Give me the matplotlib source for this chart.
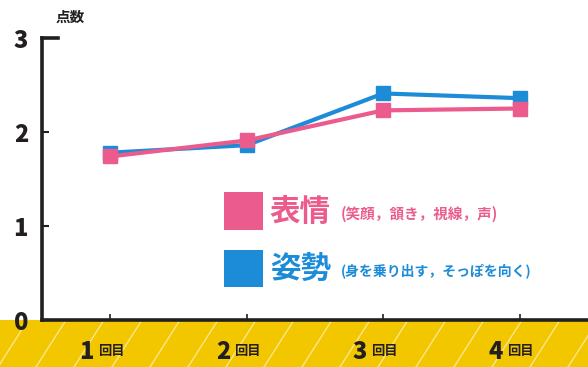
import matplotlib
matplotlib.use("Agg")
import matplotlib.pyplot as plt
from matplotlib.patches import Rectangle
from matplotlib.lines import Line2D

plt.rcParams['font.family'] = ['Noto Sans CJK JP', 'DejaVu Sans']

# data
rounds = [1, 2, 3, 4]
round_nums = ["1", "2", "3", "4"]
round_suffix = "回目"
hyojo = [1.74, 1.91, 2.23, 2.25]   # 表情
shisei = [1.78, 1.86, 2.41, 2.36]  # 姿勢
yticks = [0, 1, 2, 3]

pink = "#EC5B8D"
blue = "#1C8CD8"
yellow = "#F2C700"
dark = "#231F20"

W, H = 588, 367
fig = plt.figure(figsize=(W / 100, H / 100), dpi=100)
fig.patch.set_facecolor("white")

# yellow band with white diagonal stripes at the bottom
band_top = 47 / H
fig.patches.append(Rectangle((0, 0), 1, band_top, transform=fig.transFigure,
                             facecolor=yellow, edgecolor="none", zorder=-3))
for x0 in range(-40, W + 40, 38):
    fig.lines.append(Line2D([x0 / W, (x0 + 30) / W], [0, band_top],
                            transform=fig.transFigure, color="white",
                            lw=1.0, alpha=0.55, zorder=-2))

ax = fig.add_axes([42 / W, 47 / H, (W - 42) / W, 282 / H])
ax.set_facecolor("none")
ax.set_xlim(0.5, 4.5)
ax.set_ylim(0, 3)

ax.plot(rounds, shisei, color=blue, lw=3, marker="s", ms=10, zorder=3)
ax.plot(rounds, hyojo, color=pink, lw=3, marker="s", ms=10, zorder=4)

for s in ["top", "right"]:
    ax.spines[s].set_visible(False)
ax.spines["left"].set_linewidth(2.6)
ax.spines["bottom"].set_linewidth(2.6)
ax.spines["left"].set_color(dark)
ax.spines["bottom"].set_color(dark)
# short cap at the top of the y axis
ax.plot([0, 0.03], [1, 1], transform=ax.transAxes, color=dark, lw=2.6,
        clip_on=False, solid_capstyle="projecting")

ax.set_yticks(yticks)
ax.set_yticklabels([str(v) for v in yticks], fontsize=17, fontweight="heavy",
                   color=dark)
ax.tick_params(axis="y", length=5, width=1.5, direction="in", pad=10, colors=dark)
ax.set_xticks(rounds)
ax.set_xticklabels([])
ax.tick_params(axis="x", length=4, width=1.2, direction="in", colors=dark)

# x labels: big digit + small 回目
for r, n in zip(rounds, round_nums):
    ax.text(r - 0.12, -0.34, n, ha="right", va="center", fontsize=17,
            fontweight="heavy", color=dark, clip_on=False)
    ax.text(r - 0.09, -0.33, round_suffix, ha="left", va="center", fontsize=9.5,
            fontweight="bold", color=dark, clip_on=False)

fig.text(56 / W, 1 - 17 / H, "点数", fontsize=10.5, fontweight="bold",
         color=dark, ha="left", va="center")

# legend drawn as squares + text
fig.patches.append(Rectangle((224 / W, 1 - 230 / H), 39 / W, 38 / H,
                             transform=fig.transFigure, facecolor=pink,
                             edgecolor="none"))
fig.patches.append(Rectangle((224 / W, 1 - 287 / H), 39 / W, 37 / H,
                             transform=fig.transFigure, facecolor=blue,
                             edgecolor="none"))
fig.text(270 / W, 1 - 212 / H, "表情", fontsize=22, fontweight="bold",
         color=pink, ha="left", va="center")
fig.text(341 / W, 1 - 214 / H, "(笑顔，頷き，視線，声)", fontsize=10.5,
         fontweight="bold", color=pink, ha="left", va="center")
fig.text(270 / W, 1 - 269 / H, "姿勢", fontsize=22, fontweight="bold",
         color=blue, ha="left", va="center")
fig.text(341 / W, 1 - 271 / H, "(身を乗り出す，そっぽを向く)", fontsize=10,
         fontweight="bold", color=blue, ha="left", va="center")

fig.savefig("out.png", dpi=100)
